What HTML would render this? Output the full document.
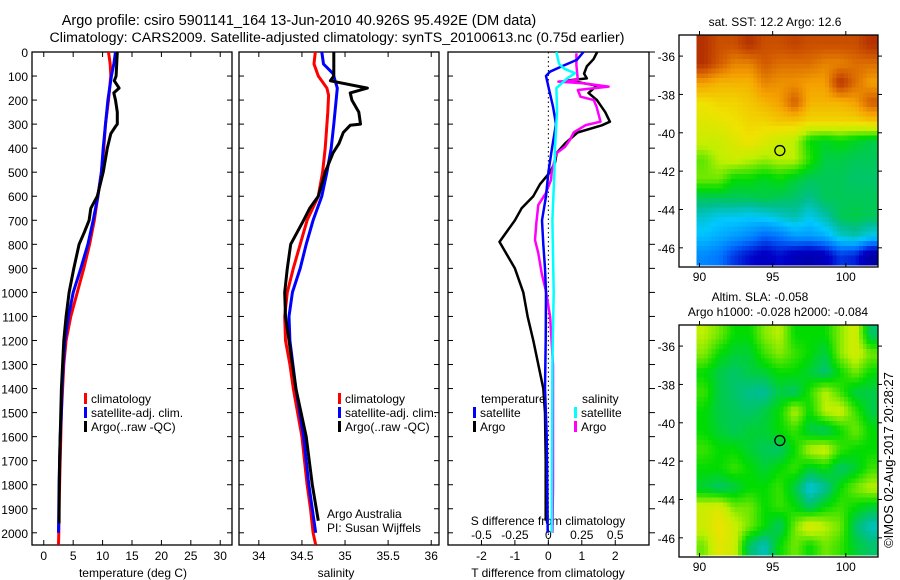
<!DOCTYPE html>
<html><head><meta charset="utf-8"><style>
html,body{margin:0;padding:0;background:#fff}
svg{display:block;font-family:"Liberation Sans",sans-serif}
</style></head><body>
<svg id="fig" width="900" height="580" viewBox="0 0 900 580">
<text x="299" y="25" font-size="14.5" text-anchor="middle">Argo profile: csiro 5901141_164 13-Jun-2010 40.926S 95.492E (DM data)</text>
<text x="337" y="42" font-size="14.2" text-anchor="middle">Climatology: CARS2009. Satellite-adjusted climatology: synTS_20100613.nc (0.75d earlier)</text>
<g id="layer"></g>
</svg>
<script>
// ---------- data ----------
const climTp=[0,50,100,200,300,400,500,600,700,800,900,1000,1100,1200,1300,1400,1500,1600,1700,1800,1900,2000,2050];
const climT=[11.0,11.3,11.4,11.0,10.5,10.2,9.8,9.2,8.6,7.8,6.8,5.7,4.6,3.8,3.4,3.2,3.0,2.9,2.8,2.7,2.6,2.55,2.5];
const satTp=[0,50,100,200,300,400,500,600,700,800,900,1000,1100,1200,1300,1400,1500,1600,1700,1800,1900,2000];
const satT=[12.2,11.9,11.5,10.9,10.5,10.1,9.8,9.2,8.4,7.5,6.3,5.0,4.2,3.6,3.3,3.1,3.0,2.8,2.7,2.6,2.55,2.5];
const argoTp=[0,100,120,150,170,200,250,300,310,340,400,500,600,650,700,750,800,900,1000,1100,1200,1300,1400,1500,1700,1850,1960];
const argoT=[12.5,12.3,12.0,12.8,11.9,12.2,12.5,12.5,12.2,11.4,10.8,10.1,9.1,8.0,7.7,6.9,6.0,5.1,4.3,3.8,3.4,3.2,3.0,2.9,2.7,2.6,2.6];
const climSp=[0,50,100,150,180,250,400,500,600,700,800,900,1000,1100,1200,1300,1400,1500,1600,1700,1800,1900,2000,2050];
const climS=[34.655,34.64,34.69,34.79,34.81,34.8,34.77,34.74,34.69,34.56,34.48,34.40,34.33,34.30,34.31,34.36,34.40,34.45,34.50,34.53,34.56,34.60,34.63,34.66];
const satSp=[0,50,90,150,300,400,500,600,700,800,900,1000,1100,1200,1400,1600,1800,2000];
const satS=[34.73,34.75,34.86,34.91,34.87,34.84,34.79,34.73,34.63,34.55,34.48,34.39,34.35,34.36,34.43,34.52,34.58,34.66];
const argoSp=[0,100,120,150,170,200,250,300,305,335,380,420,500,600,650,700,800,900,1000,1100,1200,1400,1600,1800,1950];
const argoS=[34.87,34.87,34.83,35.26,35.06,35.08,35.16,35.18,35.06,34.98,34.93,34.86,34.77,34.69,34.59,34.52,34.37,34.33,34.30,34.31,34.35,34.43,34.55,34.62,34.69];
const dTsatP=[0,33,60,82,100,144,227,300,400,500,600,700,800,900,1000,1200,1400,1600,1800,2000];
const dTsat=[1.05,0.85,0.4,0.05,-0.07,0,0.14,0.23,0.11,0,-0.07,-0.19,-0.15,-0.1,-0.07,-0.08,-0.1,-0.05,-0.03,-0.02];
const dTargoP=[0,30,60,90,110,118,140,170,200,250,290,305,335,380,420,460,500,550,600,650,700,790,900,1000,1100,1200,1300,1400,1500,1700,1950];
const dTargo=[1.46,1.35,1.15,1.07,1.15,0.6,1.45,1.2,1.45,1.7,1.84,1.6,0.87,0.5,0.25,0.2,0.05,-0.25,-0.45,-0.8,-1.0,-1.46,-1.0,-0.75,-0.62,-0.45,-0.3,-0.15,-0.1,-0.08,-0.08];
const dSsatP=[0,50,70,88,110,150,250,400,500,700,1000,1300,1600,2000];
const dSsat=[0.06,0.08,0.12,0.2,0.14,0.06,0.065,0.05,0.045,0.03,0.04,0.03,0.028,0.025];
const dSargoP=[5,54,116,123,130,144,158,186,200,227,290,304,334,366,394,421,499,532,588,636,713,782,837,921,990,1100,1300,1500,1800,2000];
const dSargo=[0.21,0.21,0.22,0.075,0.26,0.45,0.22,0.24,0.34,0.36,0.39,0.28,0.19,0.16,0.125,0.06,0.025,0.02,-0.02,-0.075,-0.09,-0.1,-0.075,-0.05,-0.02,0.013,0.035,0.035,0.035,0.03];
const pTicks=[0,100,200,300,400,500,600,700,800,900,1000,1100,1200,1300,1400,1500,1600,1700,1800,1900,2000];
const tTicks=[0,5,10,15,20,25,30];
const sTicks=[34,34.5,35,35.5,36];
const sTickLabels=["34","34.5","35","35.5","36"];
const dTTicks=[-2,-1,0,1,2];
const dSTicks=[-0.5,-0.25,0,0.25,0.5];
const dSTickLabels=["-0.5","-0.25","0","0.25","0.5"];
const latTicks=[-36,-38,-40,-42,-44,-46];
const lonTicks=[90,95,100];
const sstGrid=[
[0.95,0.9,0.9,0.95,0.9,0.9,0.92,0.9,0.9,0.9,0.9,0.95],
[0.95,0.88,0.82,0.82,0.88,0.85,0.85,0.85,0.82,0.82,0.85,0.85],
[0.78,0.75,0.75,0.75,0.82,0.8,0.8,0.78,0.78,0.95,0.85,0.78],
[0.68,0.7,0.7,0.72,0.75,0.78,0.88,0.75,0.75,0.75,0.78,0.88],
[0.65,0.66,0.68,0.7,0.7,0.72,0.72,0.7,0.7,0.7,0.7,0.72],
[0.62,0.62,0.65,0.68,0.65,0.62,0.6,0.5,0.48,0.5,0.48,0.46],
[0.55,0.6,0.62,0.6,0.58,0.6,0.6,0.52,0.46,0.46,0.45,0.45],
[0.56,0.56,0.5,0.5,0.48,0.5,0.47,0.45,0.45,0.45,0.44,0.44],
[0.45,0.45,0.45,0.45,0.46,0.45,0.44,0.42,0.45,0.45,0.45,0.45],
[0.38,0.36,0.36,0.35,0.36,0.38,0.4,0.36,0.4,0.45,0.46,0.45],
[0.34,0.32,0.3,0.28,0.24,0.26,0.3,0.3,0.32,0.38,0.4,0.36],
[0.28,0.26,0.2,0.16,0.13,0.16,0.12,0.1,0.13,0.2,0.18,0.08]];
const slaGrid=[
[0.6,0.56,0.5,0.5,0.57,0.6,0.5,0.5,0.5,0.57,0.63,0.44],
[0.57,0.5,0.47,0.47,0.53,0.57,0.53,0.5,0.46,0.57,0.63,0.56],
[0.5,0.46,0.44,0.46,0.47,0.5,0.5,0.47,0.43,0.5,0.56,0.5],
[0.53,0.46,0.44,0.42,0.41,0.46,0.44,0.52,0.6,0.53,0.46,0.46],
[0.5,0.46,0.45,0.44,0.46,0.5,0.6,0.5,0.6,0.62,0.53,0.46],
[0.5,0.47,0.45,0.47,0.47,0.5,0.53,0.46,0.44,0.5,0.56,0.5],
[0.53,0.5,0.5,0.47,0.45,0.44,0.5,0.6,0.62,0.53,0.5,0.5],
[0.5,0.5,0.53,0.5,0.47,0.5,0.53,0.47,0.5,0.44,0.47,0.53],
[0.47,0.44,0.46,0.5,0.5,0.53,0.46,0.37,0.41,0.5,0.56,0.6],
[0.62,0.64,0.56,0.56,0.5,0.53,0.5,0.44,0.5,0.53,0.5,0.47],
[0.62,0.68,0.62,0.56,0.5,0.44,0.56,0.65,0.6,0.56,0.44,0.39],
[0.56,0.66,0.62,0.44,0.39,0.5,0.56,0.5,0.56,0.53,0.47,0.44]];
const floatLon=95.492, floatLat=-40.926;

// ---------- helpers ----------
const NS="http://www.w3.org/2000/svg";
const L=document.getElementById('layer');
function mk(tag,attrs,parent){const e=document.createElementNS(NS,tag);for(const k in attrs)e.setAttribute(k,attrs[k]);(parent||L).appendChild(e);return e;}
const yP=p=>52+p*0.2404;
const xT=v=>32+(v+2)*5.882;
const xS=v=>239+(v-33.77)*86.2;
const xD=v=>448+(v+3)*33.45;
const xDS=v=>xD(v*4);

function panel(x0,x1,name){
  const r=mk('rect',{x:x0,y:52,width:x1-x0,height:493,fill:'none',stroke:'#000','stroke-width':1.3});
  
  
  pTicks.forEach(p=>{const y=yP(p);
    mk('line',{x1:x0,y1:y,x2:x0+5,y2:y,stroke:'#000'});
    mk('line',{x1:x1,y1:y,x2:x1-5,y2:y,stroke:'#000'});});
}
function line(xs,ps,xf,col,name,w){
  const d=ps.map((p,i)=>(i?'L':'M')+xf(xs[i]).toFixed(1)+' '+yP(p).toFixed(1)).join(' ');
  const e=mk('path',{d:d,fill:'none',stroke:col,'stroke-width':w||3,'stroke-linejoin':'round'});
  
  
}
function txt(x,y,s,size,anchor,name){const e=mk('text',{x:x,y:y,'font-size':size,'text-anchor':anchor||'start'});e.textContent=s;
  
  
  return e;}
function legendItem(x,y,col,label,name){
  mk('rect',{x:x,y:y-10,width:3,height:11,fill:col});
  txt(x+7,y,label,12,'start',name);
}

// ---------- panel 1: temperature ----------
panel(32,232,'temperature-panel');
pTicks.forEach(p=>txt(28,yP(p)+5,String(p),12,'end','pressure-tick-label'));
tTicks.forEach(v=>{const x=xT(v);mk('line',{x1:x,y1:545,x2:x,y2:540,stroke:'#000'});mk('line',{x1:x,y1:52,x2:x,y2:57,stroke:'#000'});
  txt(x,560,String(v),12,'middle','temperature-tick-label');});
txt(133,577,'temperature (deg C)',12,'middle','temperature-axis-title');
line(climT,climTp,xT,'#ff0000','temperature-climatology-line');
line(satT,satTp,xT,'#0000ff','temperature-satellite-line');
line(argoT,argoTp,xT,'#000000','temperature-argo-line');
legendItem(84,403,'#ff0000','climatology','legend-climatology');
legendItem(84,417,'#0000ff','satellite-adj. clim.','legend-satellite');
legendItem(84,431,'#000000','Argo(..raw -QC)','legend-argo');

// ---------- panel 2: salinity ----------
panel(239,439,'salinity-panel');
sTicks.forEach((v,i)=>{const x=xS(v);mk('line',{x1:x,y1:545,x2:x,y2:540,stroke:'#000'});mk('line',{x1:x,y1:52,x2:x,y2:57,stroke:'#000'});
  txt(x,560,sTickLabels[i],12,'middle','salinity-tick-label');});
txt(336,577,'salinity',12,'middle','salinity-axis-title');
line(climS,climSp,xS,'#ff0000','salinity-climatology-line');
line(satS,satSp,xS,'#0000ff','salinity-satellite-line');
line(argoS,argoSp,xS,'#000000','salinity-argo-line');
legendItem(338,403,'#ff0000','climatology','legend-climatology-s');
legendItem(338,417,'#0000ff','satellite-adj. clim.','legend-satellite-s');
legendItem(338,431,'#000000','Argo(..raw -QC)','legend-argo-s');
txt(327,518,'Argo Australia',12,'start','institution-label');
txt(327,532,'PI: Susan Wijffels',12,'start','pi-label');

// ---------- panel 3: differences ----------
mk('rect',{x:448,y:52,width:201,height:493,fill:'none',stroke:'#000','stroke-width':1.3});
pTicks.forEach(p=>{const y=yP(p);mk('line',{x1:448,y1:y,x2:453,y2:y,stroke:'#000'});mk('line',{x1:649,y1:y,x2:655,y2:y,stroke:'#000'});});
dTTicks.forEach(v=>{const x=xD(v);mk('line',{x1:x,y1:545,x2:x,y2:540,stroke:'#000'});
  txt(x,560,String(v),12,'middle','t-diff-tick-label');});
dSTicks.forEach((v,i)=>txt(xDS(v),539,dSTickLabels[i],12,'middle','s-diff-tick-label'));
txt(548,577,'T difference from climatology',12,'middle','t-diff-axis-title');
txt(548,525,'S difference from climatology',12,'middle','s-diff-axis-title');
mk('line',{x1:xD(0),y1:52,x2:xD(0),y2:545,stroke:'#000','stroke-dasharray':'1.5,3'});
line(dTargo,dTargoP,xD,'#000000','t-diff-argo-line',2.5);
line(dSargo,dSargoP,xDS,'#ff00ff','s-diff-argo-line',2.5);
line(dTsat,dTsatP,xD,'#0000ff','t-diff-satellite-line',2.5);
line(dSsat,dSsatP,xDS,'#00ffff','s-diff-satellite-line',2.5);
txt(481,403,'temperature',12,'start','legend-temperature-header');
txt(582,403,'salinity',12,'start','legend-salinity-header');
legendItem(473,417,'#0000ff','satellite','legend-t-satellite');
legendItem(473,431,'#000000','Argo','legend-t-argo');
legendItem(574,417,'#00ffff','satellite','legend-s-satellite');
legendItem(574,431,'#ff00ff','Argo','legend-s-argo');

// ---------- maps ----------
const stops=[[0,[0,0,127]],[0.15,[0,0,200]],[0.25,[0,110,255]],[0.35,[0,200,255]],[0.42,[0,190,140]],[0.5,[0,220,0]],[0.6,[190,240,0]],[0.68,[240,225,0]],[0.78,[245,160,0]],[0.88,[210,90,0]],[1,[160,20,0]]];
function cmap(v){v=Math.max(0,Math.min(1,v));for(let i=1;i<stops.length;i++){if(v<=stops[i][0]){const a=stops[i-1],b=stops[i],t=(v-a[0])/(b[0]-a[0]);
  const c=a[1].map((x,k)=>Math.round(x+(b[1][k]-x)*t));return `rgb(${c[0]},${c[1]},${c[2]})`;}}return 'rgb(160,20,0)';}
function map(grid,top,bot,name){
  const x0=679,x1=878,lonA=88.6,lonB=102.2,latA=-34.9,latB=-47.0;
  const mx=lon=>x0+(lon-lonA)*(x1-x0)/(lonB-lonA);
  const my=lat=>top+(lat-latA)*(bot-top)/(latB-latA);
  const g=mk('g',{'shape-rendering':'crispEdges'});
  
  
  const R=grid.length,C=grid[0].length,sub=4;
  const lon0=89.8,dl=(102.2-89.8)/C;
  const get=(r,c)=>grid[Math.max(0,Math.min(R-1,r))][Math.max(0,Math.min(C-1,c))];
  for(let r=0;r<R*sub;r++)for(let c=0;c<C*sub;c++){
    const fr=(r+0.5)/sub-0.5,fc=(c+0.5)/sub-0.5;const r0=Math.floor(fr),c0=Math.floor(fc),tr=fr-r0,tc=fc-c0;
    const v=get(r0,c0)*(1-tr)*(1-tc)+get(r0,c0+1)*(1-tr)*tc+get(r0+1,c0)*tr*(1-tc)+get(r0+1,c0+1)*tr*tc;
    const xa=mx(lon0+c*dl/sub),xb=mx(lon0+(c+1)*dl/sub),ya=my(-34.9-r/sub),yb=my(-34.9-(r+1)/sub);
    mk('rect',{x:xa.toFixed(2),y:ya.toFixed(2),width:(xb-xa+0.6).toFixed(2),height:(Math.min(yb,bot)-ya+0.6).toFixed(2),fill:cmap(v)},g);
  }
  const fr=mk('rect',{x:x0,y:top,width:x1-x0,height:bot-top,fill:'none',stroke:'#000','stroke-width':1.3});
  
  
  latTicks.forEach(lat=>{const y=my(lat);mk('line',{x1:x0,y1:y,x2:x0+4,y2:y,stroke:'#000'});mk('line',{x1:x1,y1:y,x2:x1+4,y2:y,stroke:'#000'});
    txt(x0-4,y+5,String(lat),12,'end','latitude-tick-label');});
  lonTicks.forEach(lon=>{const x=mx(lon);mk('line',{x1:x,y1:top,x2:x,y2:top-4,stroke:'#000'});mk('line',{x1:x,y1:bot,x2:x,y2:bot-4,stroke:'#000'});
    txt(x,bot+14,String(lon),12,'middle','longitude-tick-label');});
  const c=mk('circle',{cx:mx(floatLon),cy:my(floatLat),r:5,fill:'none',stroke:'#000','stroke-width':1.3});
  
  
}
map(sstGrid,35,267,'sst-map');
txt(775,26,'sat. SST: 12.2 Argo: 12.6',12,'middle','sst-map-title');
map(slaGrid,325,557,'sla-map');
txt(760,301,'Altim. SLA: -0.058',12,'middle','sla-map-title');
txt(778,316,'Argo h1000: -0.028 h2000: -0.084',12,'middle','sla-map-subtitle');
const cp=txt(0,0,'©IMOS 02-Aug-2017 20:28:27',13,'middle','copyright-label');
cp.setAttribute('transform','translate(893,460) rotate(-90)');
</script>
</body></html>
